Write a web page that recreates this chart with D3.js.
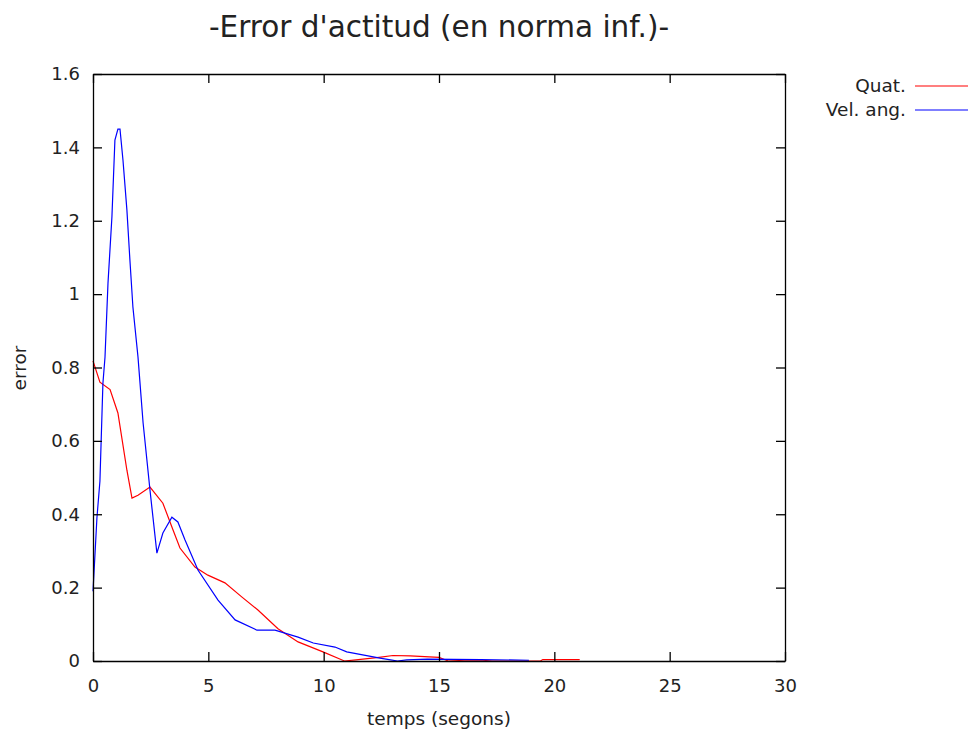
<!DOCTYPE html>
<html>
<head>
<meta charset="utf-8">
<script src="https://cdn.jsdelivr.net/npm/d3@7"></script>
<style>
  body { margin: 0; background: #fff; }
  text { font-family: "DejaVu Sans", sans-serif; fill: #222; }
</style>
</head>
<body>
<svg id="chart"></svg>
<script>
// dades llegides del gràfic
const quatX = [0, 0.3, 0.74, 1.08, 1.47, 1.69, 1.95, 2.47, 3.03, 3.47, 3.77, 4.42, 4.98, 5.72, 6.46, 7.15, 8.02, 8.89, 9.97, 10.9, 11.4, 12.4, 13.0, 13.75, 15.0, 15.4, 16.1, 16.9, 17.3, 19.4, 19.5, 21.1];
const quatY = [0.818, 0.76, 0.74, 0.676, 0.52, 0.444, 0.452, 0.474, 0.43, 0.357, 0.308, 0.256, 0.234, 0.213, 0.174, 0.139, 0.088, 0.052, 0.025, 0.0, 0.003, 0.01, 0.015, 0.014, 0.01, 0.0, 0.002, 0.002, 0.0, 0.0, 0.004, 0.004];
const velX = [0, 0.17, 0.3, 0.43, 0.52, 0.65, 0.82, 0.95, 1.08, 1.17, 1.3, 1.47, 1.6, 1.73, 1.95, 2.17, 2.47, 2.77, 3.03, 3.42, 3.68, 3.99, 4.55, 5.42, 6.16, 7.11, 7.89, 8.89, 9.55, 10.49, 11.0, 12.44, 12.9, 13.2, 13.6, 14.5, 16.8, 18.9];
const velY = [0.19, 0.39, 0.49, 0.757, 0.828, 1.03, 1.21, 1.42, 1.45, 1.45, 1.365, 1.229, 1.093, 0.965, 0.829, 0.65, 0.466, 0.294, 0.349, 0.392, 0.379, 0.33, 0.248, 0.166, 0.112, 0.084, 0.084, 0.065, 0.049, 0.038, 0.025, 0.008, 0.003, 0.0, 0.003, 0.005, 0.004, 0.002];
const xTicks = [0, 5, 10, 15, 20, 25, 30];
const yTicks = [0, 0.2, 0.4, 0.6, 0.8, 1, 1.2, 1.4, 1.6];
const seriesNames = ["Quat.", "Vel. ang."];
const seriesColors = ["#ff0000", "#0000ff"];

const width = 969, height = 733;
const marginLeft = 93, marginRight = 184, marginTop = 74, marginBottom = 72;

var svg = d3.select("#chart")
    .attr("width", width)
    .attr("height", height);

var xScale = d3.scaleLinear().domain([0, 30]).range([marginLeft, width - marginRight]);
var yScale = d3.scaleLinear().domain([0, 1.6]).range([height - marginBottom, marginTop]);

const series = [
    quatX.map((x, i) => [x, quatY[i]]),
    velX.map((x, i) => [x, velY[i]])
];

var line = d3.line()
    .x(d => xScale(d[0]))
    .y(d => yScale(d[1]));

svg.append("g")
    .selectAll("path")
    .data(series)
    .join("path")
    .attr("d", line)
    .attr("fill", "none")
    .attr("stroke", (d, i) => seriesColors[i])
    .attr("stroke-width", 1.2);

//eixos amb marques cap a dins (estil gnuplot)
const axisStyle = g => {
    g.select(".domain").attr("stroke", "#000").attr("stroke-width", 1.3);
    g.selectAll(".tick line").attr("stroke", "#000").attr("stroke-width", 1.3);
    g.selectAll(".tick text").attr("font-size", "18px").attr("fill", "#222")
        .attr("font-family", "DejaVu Sans, sans-serif");
};
svg.append("g")
    .attr("transform", `translate(0, ${height - marginBottom})`)
    .call(d3.axisBottom(xScale).tickValues(xTicks).tickFormat(d3.format("d")).tickSizeInner(-9).tickSizeOuter(0).tickPadding(18))
    .call(axisStyle);
svg.append("g")
    .attr("transform", `translate(0, ${marginTop})`)
    .call(d3.axisTop(xScale).tickValues(xTicks).tickFormat("").tickSizeInner(-9).tickSizeOuter(0))
    .call(axisStyle);
svg.append("g")
    .attr("transform", `translate(${marginLeft}, 0)`)
    .call(d3.axisLeft(yScale).tickValues(yTicks).tickFormat(d => d3.format("")(d)).tickSizeInner(-9).tickSizeOuter(0).tickPadding(13))
    .call(axisStyle);
svg.append("g")
    .attr("transform", `translate(${width - marginRight}, 0)`)
    .call(d3.axisRight(yScale).tickValues(yTicks).tickFormat("").tickSizeInner(-9).tickSizeOuter(0))
    .call(axisStyle);

// títol i etiquetes
svg.append("text")
    .attr("x", 439).attr("y", 37)
    .attr("text-anchor", "middle")
    .attr("font-size", "29.5px")
    .text("-Error d'actitud (en norma inf.)-");
svg.append("text")
    .attr("x", 439).attr("y", 725)
    .attr("text-anchor", "middle")
    .attr("font-size", "18.5px")
    .text("temps (segons)");
svg.append("text")
    .attr("transform", "translate(26, 368) rotate(-90)")
    .attr("text-anchor", "middle")
    .attr("font-size", "18.5px")
    .text("error");

// llegenda
var legend = svg.append("g")
    .selectAll("g")
    .data(seriesNames)
    .join("g")
    .attr("transform", (d, i) => `translate(0, ${86 + i * 24})`);
legend.append("text")
    .attr("x", 906).attr("dy", "0.35em")
    .attr("text-anchor", "end")
    .attr("font-size", "18.5px")
    .text(d => d);
legend.append("line")
    .attr("x1", 915).attr("x2", 968)
    .attr("stroke", (d, i) => seriesColors[i])
    .attr("stroke-width", 1.2);
</script>
</body>
</html>
